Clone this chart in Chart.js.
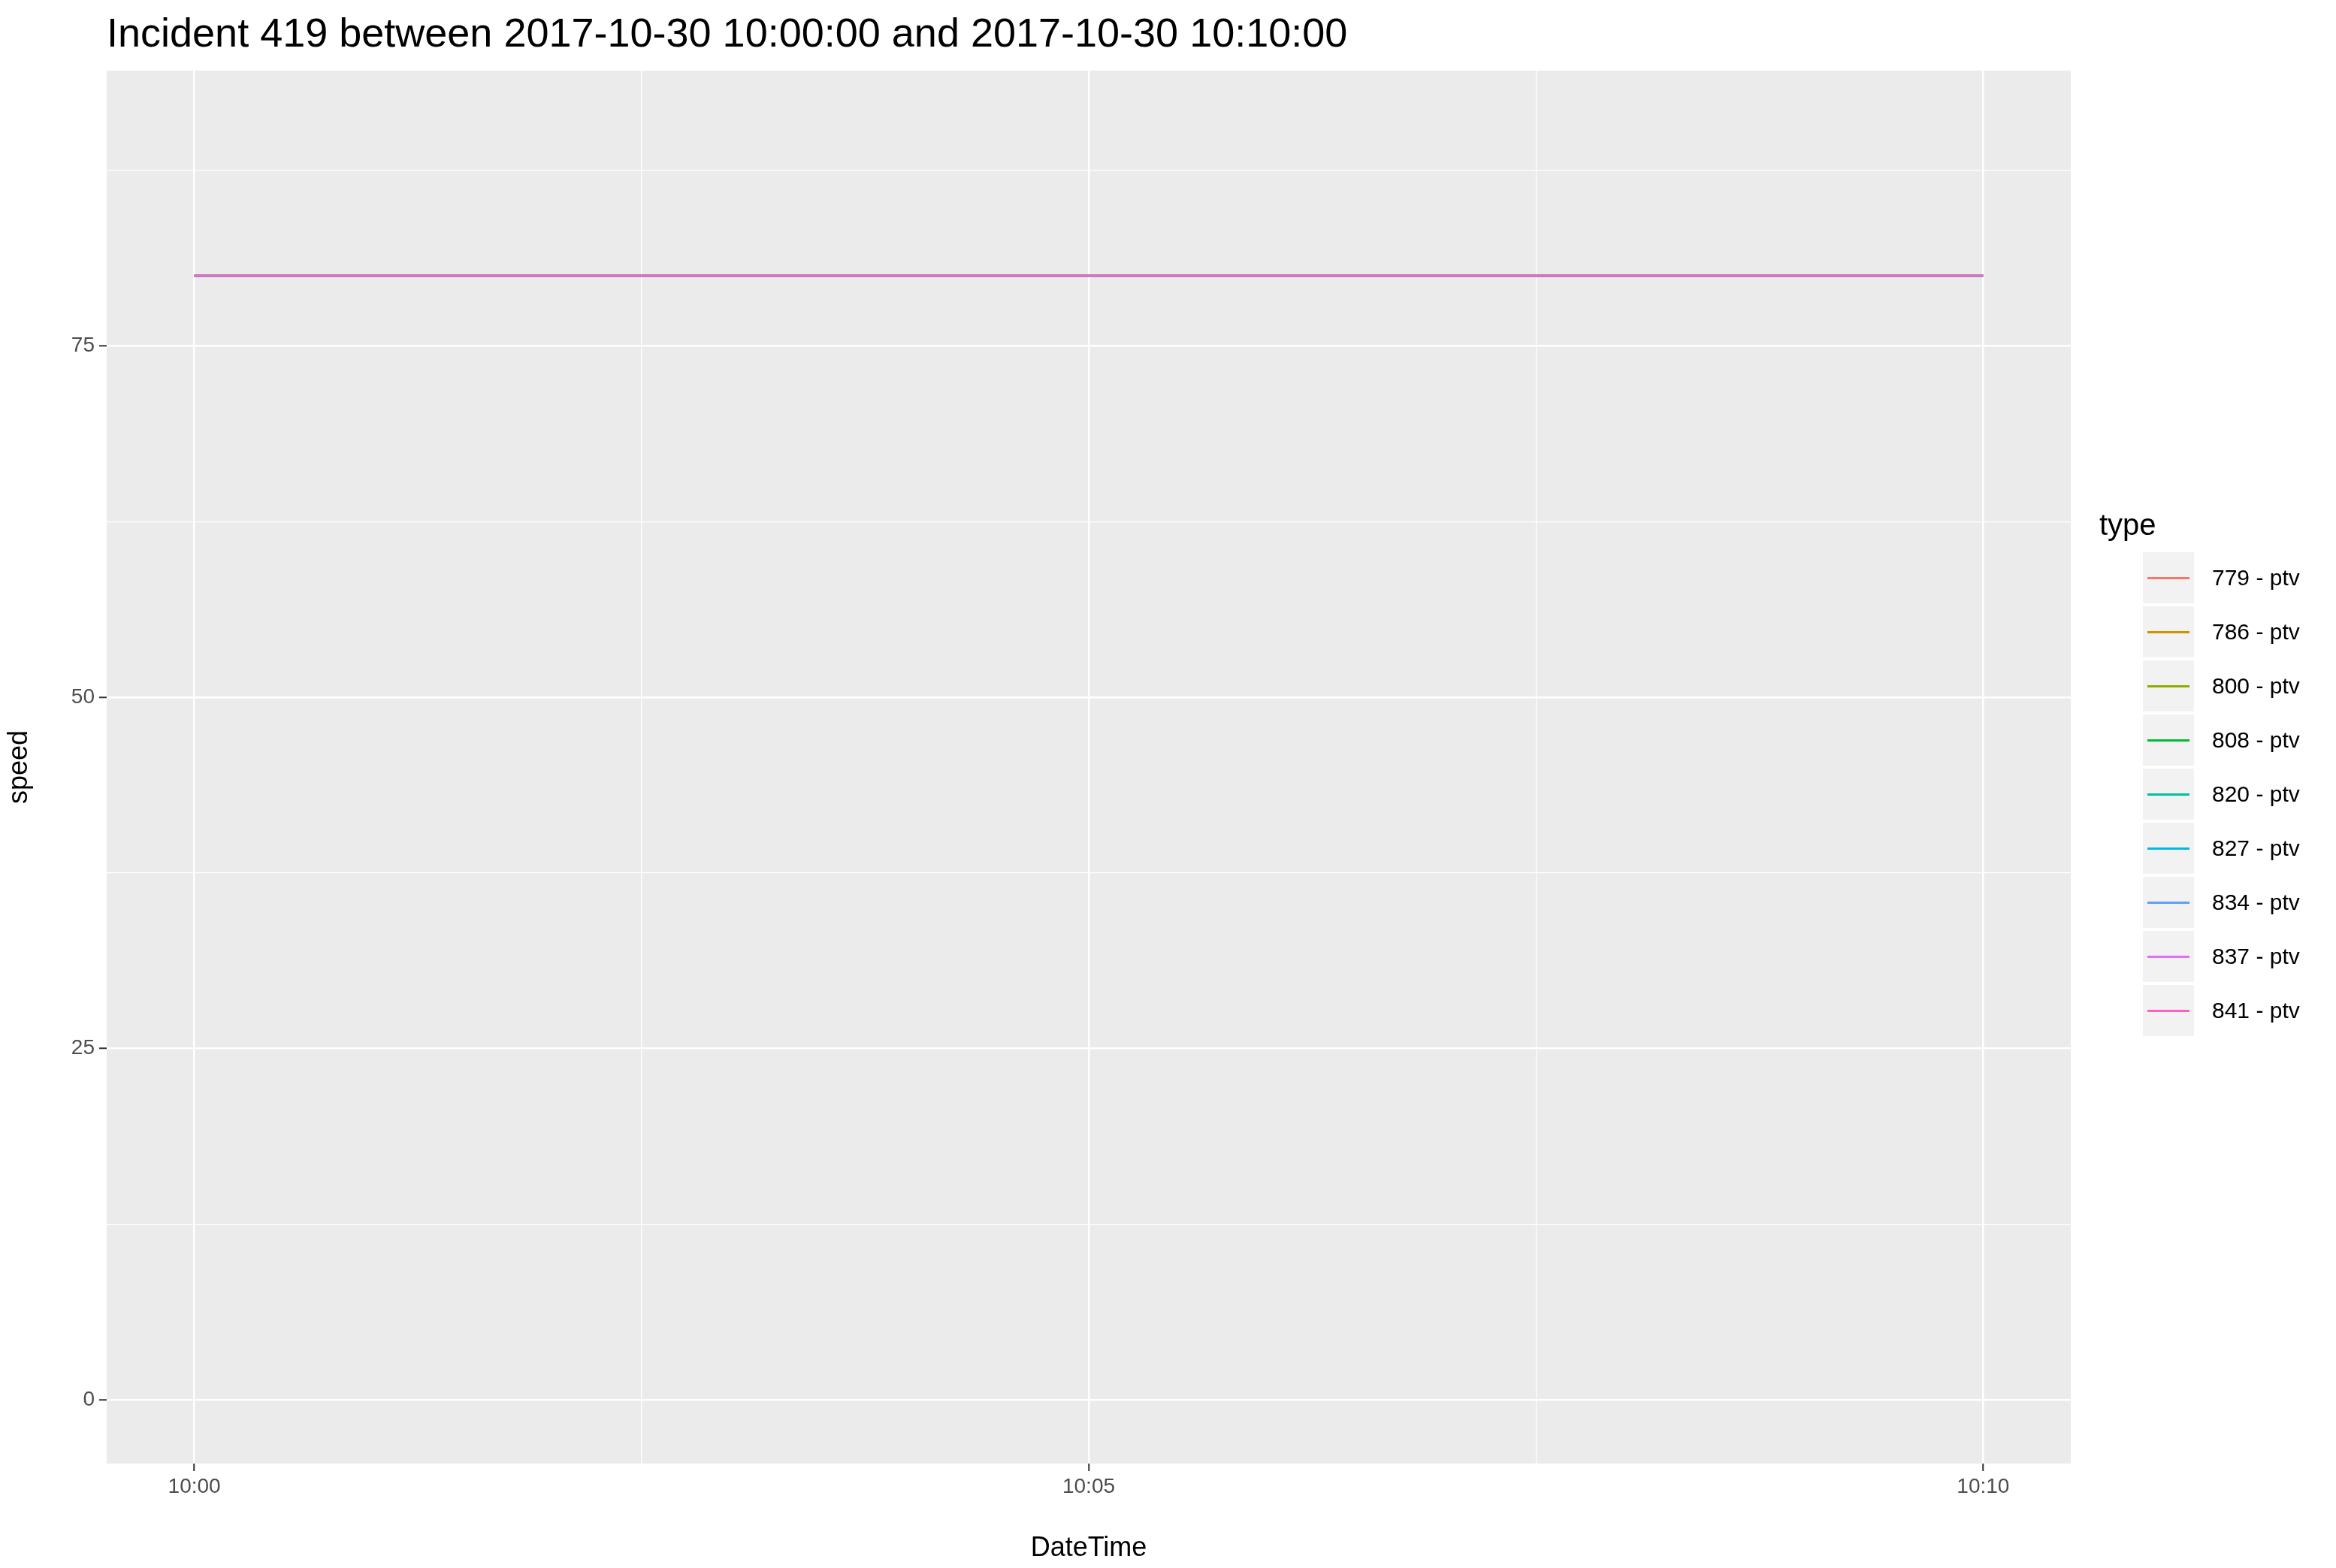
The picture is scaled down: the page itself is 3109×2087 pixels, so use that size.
<!DOCTYPE html>
<html>
<head>
<meta charset="utf-8">
<script src="https://cdn.jsdelivr.net/npm/chart.js@4"></script>
<style>
  body { margin: 0; background: #fff; font-family: "Liberation Sans", Arial, sans-serif; }
  #wrap { position: relative; width: 3109px; height: 2087px; }
  #c { position: absolute; left: 0; top: 0; }
  #title { position: absolute; left: 142px; top: 12px; font-size: 54px; color: #000; }
  #legend { position: absolute; left: 2852px; top: 676px; }
  #legend .ttl { font-size: 40px; margin-bottom: 12px; margin-left: -58px; }
  #legend .row { display: flex; align-items: center; height: 72px; }
  #legend .key { width: 68px; height: 68px; background: #f2f2f2; position: relative; margin-right: 24px; }
  #legend .key span { position: absolute; left: 6px; right: 6px; top: 33px; height: 2.5px; }
  #legend .lbl { font-size: 30px; }
</style>
</head>
<body>
<div id="wrap">
  <canvas id="c" width="3109" height="2087"></canvas>
  <div id="title">Incident 419 between 2017-10-30 10:00:00 and 2017-10-30 10:10:00</div>
  <div id="legend"></div>
</div>
<script>
// Series data (minutes after 10:00)
const types = ['779 - ptv', '786 - ptv', '800 - ptv', '808 - ptv', '820 - ptv', '827 - ptv', '834 - ptv', '837 - ptv', '841 - ptv'];
const colors = ['#F8766D', '#D39200', '#93AA00', '#00BA38', '#00C19F', '#00B9E3', '#619CFF', '#DB72FB', '#FF61C3'];
const minutes = [0, 10];
const speeds = [80, 80];
const xTickLabels = { 0: '10:00', 5: '10:05', 10: '10:10' };
const yTickLabels = [0, 25, 50, 75];

// Build legend
const legend = document.getElementById('legend');
let html = '<div class="ttl">type</div>';
types.forEach((t, i) => {
    html += `<div class="row"><div class="key"><span style="background:${colors[i]}"></span></div><div class="lbl">${t}</div></div>`;
});
legend.innerHTML = html;

// Grey panel background
const panelBg = {
    id: 'panelBg',
    beforeDraw(chart) {
        const a = chart.chartArea;
        const ctx = chart.ctx;
        ctx.save();
        ctx.fillStyle = '#ebebeb';
        ctx.fillRect(a.left, a.top, a.right - a.left, a.bottom - a.top);
        ctx.restore();
    }
};

const isMajorX = v => Math.abs(v % 5) < 1e-6;
const isMajorY = v => Math.abs(v % 25) < 1e-6;

new Chart(document.getElementById('c'), {
    type: 'line',
    data: {
        datasets: types.map((t, i) => ({
            label: t,
            data: minutes.map((m, j) => ({ x: m, y: speeds[j] })),
            borderColor: colors[i],
            borderWidth: 2.5,
            pointRadius: 0,
            fill: false,
            order: types.length - i   // last series drawn on top
        }))
    },
    options: {
        responsive: false,
        animation: false,
        layout: { padding: { top: 94, right: 353, left: 0, bottom: 0 } },
        plugins: { legend: { display: false }, tooltip: { enabled: false } },
        scales: {
            x: {
                type: 'linear',
                min: -0.49,
                max: 10.49,
                afterFit: s => { s.height = 139; },
                afterBuildTicks: s => { s.ticks = [0, 2.5, 5, 7.5, 10].map(v => ({ value: v })); },
                border: { display: false },
                grid: {
                    color: '#ffffff',
                    lineWidth: c => isMajorX(c.tick.value) ? 2.5 : 1.2,
                    tickColor: c => isMajorX(c.tick.value) ? '#333333' : 'rgba(0,0,0,0)',
                    tickLength: 10,
                    tickWidth: 2
                },
                ticks: {
                    color: '#4d4d4d',
                    font: { size: 28, family: 'Liberation Sans' },
                    padding: 4,
                    maxRotation: 0,
                    autoSkip: false,
                    callback: v => xTickLabels[v] || ''
                },
                title: { display: true, text: 'DateTime', color: '#000', font: { size: 36, family: 'Liberation Sans' }, padding: { top: 6 } }
            },
            y: {
                min: -4.55,
                max: 94.6,
                afterFit: s => { s.width = 142; },
                afterBuildTicks: s => { s.ticks = [0, 12.5, 25, 37.5, 50, 62.5, 75, 87.5].map(v => ({ value: v })); },
                border: { display: false },
                grid: {
                    color: '#ffffff',
                    lineWidth: c => isMajorY(c.tick.value) ? 2.5 : 1.2,
                    tickColor: c => isMajorY(c.tick.value) ? '#333333' : 'rgba(0,0,0,0)',
                    tickLength: 10,
                    tickWidth: 2
                },
                ticks: {
                    color: '#4d4d4d',
                    font: { size: 28, family: 'Liberation Sans' },
                    padding: 6,
                    autoSkip: false,
                    callback: v => yTickLabels.includes(v) ? String(v) : ''
                },
                title: { display: true, text: 'speed', color: '#000', font: { size: 36, family: 'Liberation Sans' }, padding: { bottom: 10 } }
            }
        }
    },
    plugins: [panelBg]
});
</script>
</body>
</html>
